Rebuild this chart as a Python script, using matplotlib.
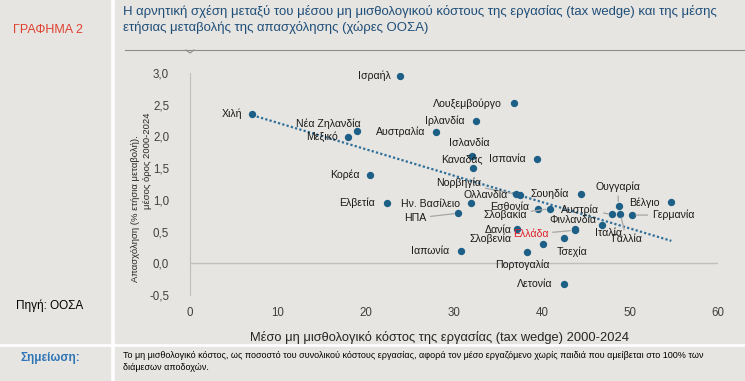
"""Tax wedge vs employment growth, OECD countries (ΓΡΑΦΗΜΑ 2)."""
import matplotlib
matplotlib.use("Agg")
import matplotlib.pyplot as plt
import numpy as np
from matplotlib.patches import Rectangle

# data
countries = ["Ισραήλ", "Χιλή", "Νέα Ζηλανδία", "Μεξικό", "Αυστραλία", "Κορέα",
             "Λουξεμβούργο", "Ιρλανδία", "Ισλανδία", "Καναδάς", "Ισπανία", "Ελβετία",
             "Ην. Βασίλειο", "ΗΠΑ", "Ιαπωνία", "Νορβηγία", "Ολλανδία", "Σουηδία",
             "Εσθονία", "Σλοβακία", "Δανία", "Σλοβενία", "Ελλάδα", "Φινλανδία",
             "Τσεχία", "Πορτογαλία", "Λετονία", "Ουγγαρία", "Βέλγιο", "Γερμανία",
             "Αυστρία", "Γαλλία", "Ιταλία"]
tax_wedge = [23.9, 7.1, 19.0, 17.9, 27.95, 20.45,
             36.8, 32.5, 32.1, 32.2, 39.4, 22.4,
             31.95, 30.5, 30.8, 37.1, 37.5, 44.4,
             39.5, 40.9, 37.2, 40.15, 43.7, 43.8,
             42.5, 38.35, 42.5, 48.7, 54.7, 50.2,
             48.0, 48.9, 46.85]
employment = [2.96, 2.35, 2.08, 1.99, 2.07, 1.39,
              2.52, 2.25, 1.69, 1.51, 1.64, 0.95,
              0.95, 0.79, 0.20, 1.09, 1.07, 1.09,
              0.86, 0.86, 0.54, 0.30, 0.52, 0.54,
              0.40, 0.18, -0.32, 0.91, 0.96, 0.76,
              0.77, 0.78, 0.61]
x_ticks = [0, 10, 20, 30, 40, 50, 60]
y_ticks = [-0.5, 0.0, 0.5, 1.0, 1.5, 2.0, 2.5, 3.0]

# label placement: offset in pixels from the dot, alignment, leader line
label_pos = {
    "Ισραήλ": (-10, 0, "right", False),
    "Χιλή": (-10, 0, "right", False),
    "Νέα Ζηλανδία": (-29, 8, "center", False),
    "Μεξικό": (-10, 0, "right", False),
    "Αυστραλία": (-11, 0, "right", False),
    "Κορέα": (-10, 0, "right", False),
    "Λουξεμβούργο": (-12, 0, "right", False),
    "Ιρλανδία": (-12, 0, "right", False),
    "Ισλανδία": (-3, 13, "center", False),
    "Καναδάς": (-11, 8, "center", False),
    "Ισπανία": (-11, 0, "right", False),
    "Ελβετία": (-12, 0, "right", False),
    "Ην. Βασίλειο": (-11, -1, "right", False),
    "ΗΠΑ": (-32, -5, "right", True),
    "Ιαπωνία": (-12, 0, "right", False),
    "Νορβηγία": (-35, 11, "right", True),
    "Ολλανδία": (-12, 0, "right", False),
    "Σουηδία": (-12, 0, "right", False),
    "Εσθονία": (-8, 2, "right", False),
    "Σλοβακία": (-23, -6, "right", True),
    "Δανία": (-6, -1, "right", False),
    "Σλοβενία": (-32, 6, "right", False),
    "Ελλάδα": (-26, -4, "right", True),
    "Φινλανδία": (-3, 9, "center", False),
    "Τσεχία": (8, -14, "center", False),
    "Πορτογαλία": (-5, -13, "center", False),
    "Λετονία": (-12, 0, "right", False),
    "Ουγγαρία": (-1, 19, "center", True),
    "Βέλγιο": (-12, 0, "right", False),
    "Γερμανία": (20, 0, "left", True),
    "Αυστρία": (-13, 5, "right", True),
    "Γαλλία": (6, -25, "center", True),
    "Ιταλία": (6, -8, "center", False),
}

W, H = 745, 381
BG = "#E6E5E1"
DOT = "#1D5F87"
TITLE_BLUE = "#1F4E79"
plt.rcParams["font.family"] = ["Liberation Sans", "DejaVu Sans"]


def fx(x):
    return x / W


def fy(y):
    return 1 - y / H


def box(x0, y0, x1, y1):
    fig.add_artist(Rectangle((fx(x0), fy(y1)), (x1 - x0) / W, (y1 - y0) / H,
                             transform=fig.transFigure, color=BG, zorder=0))


def fit_width(texts, target):
    # shrink a group of texts so the first one is `target` pixels wide
    r = fig.canvas.get_renderer()
    w = texts[0].get_window_extent(r).width
    for t in texts:
        t.set_fontsize(t.get_fontsize() * target / w)


fig = plt.figure(figsize=(W / 100, H / 100), dpi=100)
fig.patch.set_facecolor("white")
box(0, 0, 110, 343)
box(115, 0, W, 343)
box(0, 347, 110, H)
box(115, 347, W, H)

# header
fig.text(fx(48), fy(30), "ΓΡΑΦΗΜΑ 2", color="#E0402F", fontsize=9,
         ha="center", va="center")
t1 = fig.text(fx(123), fy(12), "Η αρνητική σχέση μεταξύ του μέσου μη μισθολογικού κόστους της "
              "εργασίας (tax wedge) και της μέσης", color=TITLE_BLUE, fontsize=10,
              ha="left", va="center")
t2 = fig.text(fx(123), fy(27), "ετήσιας μεταβολής της απασχόλησης (χώρες ΟΟΣΑ)",
              color=TITLE_BLUE, fontsize=10, ha="left", va="center")
fit_width([t1, t2], 597)
fig.add_artist(plt.Line2D([fx(125), fx(745)], [fy(50), fy(50)], color="#8C8C8C", lw=0.8))
fig.add_artist(plt.Line2D([fx(186), fx(190), fx(194)], [fy(50), fy(53), fy(50)],
                          color="#8C8C8C", lw=0.8))

# footer
fig.text(fx(50), fy(306), "Πηγή: ΟΟΣΑ", fontsize=8.5, ha="center", va="center")
fig.text(fx(50), fy(358), "Σημείωση:", fontsize=8.5, ha="center", va="center",
         color="#2E75B6", fontweight="bold")
n1 = fig.text(fx(123), fy(355), "Το μη μισθολογικό κόστος, ως ποσοστό του συνολικού κόστους "
              "εργασίας, αφορά τον μέσο εργαζόμενο χωρίς παιδιά που αμείβεται στο 100% των",
              fontsize=6.3, ha="left", va="center")
n2 = fig.text(fx(123), fy(367), "διάμεσων αποδοχών.", fontsize=6.3, ha="left", va="center")
fit_width([n1, n2], 578)

# scatter
ax = fig.add_axes([fx(190), fy(295), 528 / W, 222 / H])
ax.set_facecolor("none")
ax.set_xlim(0, 60)
ax.set_ylim(-0.5, 3.0)
ax.axhline(0, color="#BFBFBF", lw=1, zorder=1)
for s in ["top", "right", "bottom"]:
    ax.spines[s].set_visible(False)
ax.spines["left"].set_color("#BFBFBF")
ax.set_xticks(x_ticks)
ax.set_yticks(y_ticks, [f"{v:.1f}".replace(".", ",") for v in y_ticks])
ax.tick_params(length=0, labelsize=8.3, colors="#404040")
ax.tick_params(axis="x", pad=9)
ax.tick_params(axis="y", pad=15)

xs = np.array(tax_wedge)
ys = np.array(employment)
slope, intercept = np.polyfit(xs, ys, 1)
tx = np.array([xs.min(), xs.max()])
ax.plot(tx, intercept + slope * tx, ls=(0, (1, 1)), color="#2E6E99", lw=1.6, zorder=2)
ax.scatter(xs, ys, s=28, color=DOT, zorder=3, linewidths=0)

for name, x, y in zip(countries, tax_wedge, employment):
    dx, dy, ha, leader = label_pos[name]
    color = "#E0202A" if name == "Ελλάδα" else "#1A1A1A"
    props = dict(arrowstyle="-", color="#A6A6A6", lw=0.9, shrinkA=1, shrinkB=3) if leader else None
    ax.annotate(name, (x, y), xytext=(dx, dy), textcoords="offset pixels",
                ha=ha, va="center", fontsize=7.6, color=color, arrowprops=props, zorder=4)

fig.text(fx(440), fy(337), "Μέσο μη μισθολογικό κόστος της εργασίας (tax wedge) 2000-2024",
         fontsize=9.3, ha="center", va="center", color="#262626")
fig.text(fx(136), fy(209), "Απασχόληση (% ετήσια μεταβολή).", fontsize=6.8,
         rotation=90, ha="center", va="center", color="#262626")
fig.text(fx(148), fy(161), "μέσος όρος 2000-2024", fontsize=6.8,
         rotation=90, ha="center", va="center", color="#262626")

fig.savefig("out.png", dpi=100, facecolor=fig.get_facecolor())
